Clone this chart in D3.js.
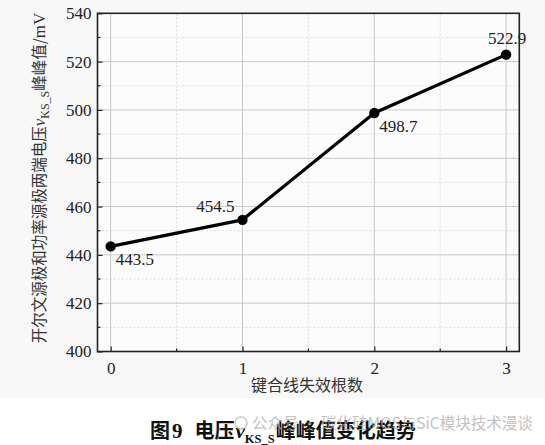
<!DOCTYPE html>
<html><head><meta charset="utf-8">
<script src="https://cdn.jsdelivr.net/npm/d3@7"></script>
<style>
html,body{margin:0;padding:0;background:#fff;}
svg{display:block;}
</style></head>
<body>
<script>
const categories = [0, 1, 2, 3];
const values = [443.5, 454.5, 498.7, 522.9];
const valueLabels = ["443.5", "454.5", "498.7", "522.9"];
const xTicks = [0, 1, 2, 3];
const yTicks = [400, 420, 440, 460, 480, 500, 520, 540];
const xMinor = [0.5, 1.5, 2.5];
const yMinor = [410, 430, 450, 470, 490, 510, 530];

const W = 545, H = 445;
const m = {left: 97.5, top: 13.3, right: 545 - 519.3, bottom: 445 - 351.5};
const SERIF = "Liberation Serif";
const CJK = "Noto Sans CJK SC";
const svg = d3.select("body").append("svg").attr("width", W).attr("height", H);

svg.append("rect").attr("x",0).attr("y",0).attr("width",W).attr("height",398).attr("fill","#f8f8f8");
svg.append("rect").attr("x",0).attr("y",398).attr("width",W).attr("height",H-398).attr("fill","#ffffff");

const x = d3.scaleLinear().domain([-0.1, 3.1]).range([m.left, W - m.right]);
const y = d3.scaleLinear().domain([400, 540]).range([H - m.bottom, m.top]);

const g = svg.append("g");
g.append("rect").attr("x", x(-0.1)).attr("y", y(540)).attr("width", x(3.1)-x(-0.1)).attr("height", y(400)-y(540)).attr("fill","#fcfcfc");

g.selectAll(".ymg").data(yMinor).join("line")
  .attr("x1", x(-0.1)).attr("x2", x(3.1)).attr("y1", d=>y(d)).attr("y2", d=>y(d))
  .attr("stroke","#d4d4d4").attr("stroke-width",0.8).attr("stroke-dasharray","2,2");
g.selectAll(".xmg").data(xMinor).join("line")
  .attr("y1", y(400)).attr("y2", y(540)).attr("x1", d=>x(d)).attr("x2", d=>x(d))
  .attr("stroke","#d4d4d4").attr("stroke-width",0.8).attr("stroke-dasharray","2,2");
g.selectAll(".yg").data(yTicks.slice(1,-1)).join("line")
  .attr("x1", x(-0.1)).attr("x2", x(3.1)).attr("y1", d=>y(d)).attr("y2", d=>y(d))
  .attr("stroke","#c8c8c8").attr("stroke-width",1);
g.selectAll(".xg").data(xTicks).join("line")
  .attr("y1", y(400)).attr("y2", y(540)).attr("x1", d=>x(d)).attr("x2", d=>x(d))
  .attr("stroke","#c8c8c8").attr("stroke-width",1);

const xAxis = d3.axisBottom(x).tickValues(xTicks).tickSize(-5).tickPadding(10).tickFormat(d3.format("d"));
const xa = svg.append("g").attr("transform", `translate(0,${y(400)})`).call(xAxis);
const yAxis = d3.axisLeft(y).tickValues(yTicks).tickSize(-5).tickPadding(6).tickFormat(d3.format("d"));
const ya = svg.append("g").attr("transform", `translate(${x(-0.1)},0)`).call(yAxis);
[xa, ya].forEach(a => {
  a.attr("font-family", SERIF).attr("font-size", 17);
  a.select(".domain").remove();
  a.selectAll("line").attr("stroke","#222").attr("stroke-width",1.2);
  a.selectAll("text").attr("font-family", SERIF).attr("font-size", 17).attr("fill","#222");
});
svg.selectAll(".xmt").data(xMinor).join("line")
  .attr("x1", d=>x(d)).attr("x2", d=>x(d)).attr("y1", y(400)).attr("y2", y(400)-3)
  .attr("stroke","#222").attr("stroke-width",1.2);
svg.selectAll(".ymt").data(yMinor).join("line")
  .attr("x1", x(-0.1)).attr("x2", x(-0.1)+3).attr("y1", d=>y(d)).attr("y2", d=>y(d))
  .attr("stroke","#222").attr("stroke-width",1.2);

svg.append("rect").attr("x", x(-0.1)).attr("y", y(540)).attr("width", x(3.1)-x(-0.1)).attr("height", y(400)-y(540))
  .attr("fill","none").attr("stroke","#222").attr("stroke-width",1.6);

const data = categories.map((c,i)=>({c, v: values[i], lab: valueLabels[i]}));
svg.append("path").datum(data)
  .attr("d", d3.line().x(d=>x(d.c)).y(d=>y(d.v)))
  .attr("fill","none").attr("stroke","#000").attr("stroke-width",3.2).attr("stroke-linejoin","round");
svg.selectAll(".pt").data(data).join("circle")
  .attr("cx", d=>x(d.c)).attr("cy", d=>y(d.v)).attr("r",5.2).attr("fill","#000");

const off = [[5,19,"start"],[-8,-8,"end"],[5,19,"start"],[1,-11,"middle"]];
svg.selectAll(".vl").data(data).join("text")
  .attr("x", (d,i)=>x(d.c)+off[i][0]).attr("y", (d,i)=>y(d.v)+off[i][1])
  .attr("text-anchor", (d,i)=>off[i][2])
  .attr("font-family", SERIF).attr("font-size",17).attr("fill","#222")
  .text(d=>d.lab);

svg.append("text").attr("x", 307).attr("y", 391).attr("text-anchor","middle")
  .attr("font-family", CJK).attr("font-size",16).attr("fill","#333").text("键合线失效根数");

const yt = svg.append("text").attr("transform","translate(45,178) rotate(-90)").attr("text-anchor","middle")
  .attr("font-family", CJK).attr("font-size",15.5).attr("fill","#333");
yt.append("tspan").text("开尔文源极和功率源极两端电压");
yt.append("tspan").attr("font-family", SERIF).attr("font-style","italic").attr("font-size",17).text("v");
yt.append("tspan").attr("font-family", SERIF).attr("font-size",12).attr("dy",4).text("KS_S");
yt.append("tspan").attr("dy",-4).text("峰峰值/");
yt.append("tspan").attr("font-family", SERIF).attr("font-size",17).text("mV");

const cap = svg.append("text").attr("x",150).attr("y",438).attr("font-family", CJK).attr("font-weight","bold")
  .attr("font-size",20).attr("fill","#111");
cap.append("tspan").text("图");
cap.append("tspan").attr("font-family", SERIF).attr("font-size",21).attr("dx",2).text("9");
cap.append("tspan").attr("dx",12).text("电压");
cap.append("tspan").attr("font-family", SERIF).attr("font-style","italic").attr("font-size",21).attr("dx",1).text("v");
cap.append("tspan").attr("font-family", SERIF).attr("font-size",12.5).attr("dy",5).text("KS_S");
cap.append("tspan").attr("dy",-5).attr("dx",1).text("峰峰值变化趋势");

svg.append("circle").attr("cx",241).attr("cy",423).attr("r",6).attr("fill","none").attr("stroke","#bbb").attr("stroke-width",1.5).attr("opacity",0.8);
svg.append("text").attr("x",252).attr("y",429).attr("font-family", CJK)
  .attr("font-size",15.5).attr("fill","#aaa").attr("opacity",0.7).text("公众号 · 碳化硅MOS与SiC模块技术漫谈");
</script>
</body></html>
